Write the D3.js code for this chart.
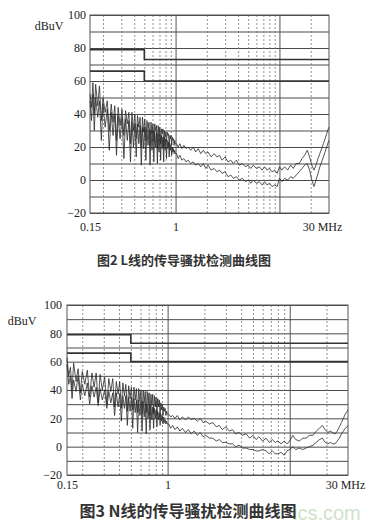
<!DOCTYPE html>
<html><head><meta charset="utf-8">
<script src="https://cdn.jsdelivr.net/npm/d3@7"></script>
<style>
html,body{margin:0;padding:0;background:#fff;}
svg{display:block;}
</style></head>
<body>
<svg id="c" width="381" height="528"></svg>
<script>
// ---------- data ----------
const freqs = [
0.150,0.155,0.160,0.165,0.170,0.178,0.185,0.193,0.200,0.210,0.220,0.230,0.240,0.250,0.260,0.270,0.280,0.292,0.305,0.318,
0.330,0.343,0.355,0.368,0.380,0.393,0.405,0.418,0.430,0.443,0.455,0.468,0.480,0.493,0.505,0.518,0.530,0.543,0.555,0.568,
0.580,0.593,0.605,0.618,0.630,0.643,0.655,0.668,0.680,0.693,0.705,0.718,0.730,0.743,0.755,0.768,0.780,0.793,0.805,0.818,
0.830,0.843,0.855,0.868,0.880,0.893,0.905,0.918,0.930,0.943,0.955,0.968,0.980,0.993,
1.02,1.06,1.1,1.15,1.2,1.26,1.32,1.4,1.48,1.56,1.65,1.75,1.85,1.95,2.05,2.2,2.35,2.5,2.65,2.8,
3.0,3.2,3.4,3.6,3.85,4.1,4.4,4.7,5.0,5.3,5.6,6.0,6.4,6.8,7.2,7.6,8.0,8.5,9.0,9.5,
10.0,10.6,11.2,12,12.8,13.6,14.5,15.5,16.5,17.5,18.5,19.5,20.5,21.5,22.5,23.5,24.5,25.5,26.5,27.5,
28.5,29.5,30];

// Fig.2 (L line) peak & average traces, dBuV
const peakL = [
52,44,59,40,58,45,57,36,50,41,48,30,46,35,45,24,44,33,43,27,
42,34,41,22,41,30,40,25,39,32,38,20,38,29,37,24,36,31,35,21,
35,28,34,23,34,30,33,19,33,27,32,22,31,28,31,20,30,26,29,23,
29,27,28,20,27,25,27,21,26,24,25,21,24,22,
22,20,22,19,21,19,20,18,20,17,19,16,18,16,17,14,16,14,15,12,
14,11,12,10,12,9,10,8,9,7,9,7,8,6,8,6,7,5,6,4,
8,6,8,6,9,7,10,10,13,15,18,14,9,6,9,13,16,19,22,25,
28,31,32];
const avgL = [
48,36,52,30,50,38,48,24,46,32,43,18,41,27,40,15,39,25,38,13,
37,24,36,11,35,20,34,14,34,22,33,9,32,19,32,12,31,21,31,9,
30,18,30,11,29,20,29,10,28,17,28,12,27,19,26,11,26,18,25,13,
24,19,23,14,22,18,21,15,20,17,19,16,18,16,
16,13,15,12,13,11,12,10,11,9,10,8,10,7,9,6,7,5,6,4,
5,2,3,1,2,0,1,-1,0,-2,0,-2,-1,-3,-1,-3,-2,-4,-3,-4,
1,-1,1,0,2,1,3,5,7,9,10,6,0,-4,0,4,8,11,14,17,
20,23,24];

// Fig.3 (N line) peak & average traces, dBuV
const peakN = [
63,50,56,40,59,46,55,38,53,44,54,35,52,42,52,31,51,40,49,30,
48,39,48,28,46,37,46,27,45,36,44,25,43,34,42,26,42,33,41,24,
41,32,40,23,40,31,39,24,39,30,38,22,37,29,37,23,36,28,35,22,
34,28,33,21,31,26,30,22,28,25,27,22,25,23,
23,21,22,20,22,19,21,19,21,19,20,18,20,17,18,16,17,14,15,12,
14,11,12,9,10,8,9,6,8,5,7,4,6,3,5,3,4,2,4,2,
4,8,5,4,6,6,8,8,11,13,15,12,10,11,10,9,11,14,17,20,
23,25,26];
const avgN = [
58,44,50,34,47,39,50,33,44,36,45,30,43,35,42,29,41,33,40,27,
39,31,38,22,38,28,37,18,36,27,36,15,35,25,35,13,34,24,33,10,
33,22,32,11,32,21,31,9,30,20,30,12,29,19,28,13,27,20,26,14,
25,19,24,15,23,18,22,16,21,17,19,16,18,16,
16,13,15,12,14,11,13,10,12,9,11,8,10,7,8,6,6,4,5,3,
3,2,2,0,1,-1,-1,-2,-2,-3,-3,-2,-3,-5,-3,-5,-5,-4,-6,-3,
-2,0,-2,-1,-2,-1,0,1,3,5,6,3,2,3,2,2,4,6,9,11,
13,14,15];

// CISPR 22 class B limit lines (quasi-peak, average)
const limitFreqs = [0.15, 0.5, 0.5, 30];
const limitQP = [79, 79, 73, 73];
const limitAV = [66, 66, 60, 60];

const yTicks = [100, 80, 60, 40, 20, 0, -20];
const yGrid = [100, 90, 80, 70, 60, 50, 40, 30, 20, 10, 0, -10, -20];
const xMinor = [0.2,0.3,0.4,0.5,0.6,0.7,0.8,0.9,2,3,4,5,6,7,8,9,20];
const xMajor = [1, 10];
const xTicks = [0.15, 1, 30];
const xTickLabels = ["0.15", "1", "30 MHz"];
const captions = ["图2 L线的传导骚扰检测曲线图", "图3 N线的传导骚扰检测曲线图"];

// ---------- drawing ----------
const svg = d3.select("#c");

function drawChart(o) {
  const x = d3.scaleLog().domain([0.15, 30]).range([o.left, o.right]);
  const y = d3.scaleLinear().domain([-20, 100]).range([o.bottom, o.top]);
  const g = svg.append("g");

  g.append("g").attr("transform", `translate(${o.left},0)`)
    .call(d3.axisLeft(y).tickValues(yGrid).tickSize(-(o.right - o.left)).tickFormat(""))
    .call(s => s.select(".domain").remove())
    .call(s => s.selectAll("line").attr("stroke", "#4a4a4a").attr("stroke-width", 1));

  g.append("g").attr("transform", `translate(0,${o.bottom})`)
    .call(d3.axisBottom(x).tickValues(xMinor).tickSize(-(o.bottom - o.top)).tickFormat(""))
    .call(s => s.select(".domain").remove())
    .call(s => s.selectAll("line").attr("stroke", "#777").attr("stroke-width", 0.8).attr("stroke-dasharray", "2,2"));

  g.append("g").attr("transform", `translate(0,${o.bottom})`)
    .call(d3.axisBottom(x).tickValues(xMajor).tickSize(-(o.bottom - o.top)).tickFormat(""))
    .call(s => s.select(".domain").remove())
    .call(s => s.selectAll("line").attr("stroke", "#555").attr("stroke-width", 1));

  g.append("rect").attr("x", o.left).attr("y", o.top)
    .attr("width", o.right - o.left).attr("height", o.bottom - o.top)
    .attr("fill", "none").attr("stroke", "#555").attr("stroke-width", 1);

  const lim = d3.line().x(d => x(d[0])).y(d => y(d[1]));
  [limitQP, limitAV].forEach(arr => {
    g.append("path").datum(limitFreqs.map((f, i) => [f, arr[i]]))
      .attr("d", lim).attr("fill", "none").attr("stroke", "#333").attr("stroke-width", 1.6);
  });

  const tr = d3.line().x(d => x(d[0])).y(d => y(d[1]));
  [o.peak, o.avg].forEach(arr => {
    g.append("path").datum(freqs.map((f, i) => [f, arr[i]]))
      .attr("d", tr).attr("fill", "none").attr("stroke", "#2a2a2a")
      .attr("stroke-width", 0.8).attr("stroke-linejoin", "round");
  });

  g.append("g").attr("transform", `translate(${o.left},0)`)
    .call(d3.axisLeft(y).tickValues(yTicks).tickSize(0).tickPadding(o.lpad))
    .call(s => s.select(".domain").remove())
    .call(s => s.selectAll("text").attr("font-family", "Liberation Serif, serif")
      .attr("font-size", o.fs).attr("fill", "#222"));

  g.append("g").attr("transform", `translate(0,${o.bottom})`)
    .call(d3.axisBottom(x).tickValues(xTicks).tickSize(0).tickPadding(o.bpad)
      .tickFormat((d, i) => xTickLabels[i]))
    .call(s => s.select(".domain").remove())
    .call(s => s.selectAll("text").attr("font-family", "Liberation Serif, serif")
      .attr("font-size", o.fs).attr("fill", "#222")
      .attr("dx", (d, i) => i === 2 ? o.dx30 : 0));

  g.append("text").attr("x", o.unitX).attr("y", o.unitY)
    .attr("font-family", "Liberation Serif, serif").attr("font-size", o.fs)
    .attr("fill", "#222").attr("text-anchor", "middle").attr("dominant-baseline", "middle")
    .text("dBuV");
}

drawChart({left: 90, right: 329, top: 15, bottom: 213, peak: peakL, avg: avgL,
  fs: 12, lpad: 4, bpad: 9, dx30: -7, unitX: 49, unitY: 27});
drawChart({left: 67, right: 348, top: 305, bottom: 475, peak: peakN, avg: avgN,
  fs: 12, lpad: 5, bpad: 5, dx30: -3, unitX: 22, unitY: 322});

// watermark (visible part)
svg.append("text").attr("x", 293).attr("y", 520).attr("text-anchor", "start")
  .attr("font-family", "Liberation Sans, Arial, sans-serif").attr("font-size", 20)
  .attr("fill", "#cfe3c8").text("ics.com");

// captions
svg.append("text").attr("x", 184).attr("y", 261).attr("text-anchor", "middle")
  .attr("dominant-baseline", "middle")
  .attr("font-family", "Noto Sans CJK SC, sans-serif").attr("font-weight", "bold")
  .attr("font-size", 13).attr("fill", "#333").text(captions[0]);
svg.append("text").attr("x", 188).attr("y", 513).attr("text-anchor", "middle")
  .attr("dominant-baseline", "middle")
  .attr("font-family", "Noto Sans CJK SC, sans-serif").attr("font-weight", "bold")
  .attr("font-size", 16).attr("fill", "#333").text(captions[1]);
</script>
</body></html>
